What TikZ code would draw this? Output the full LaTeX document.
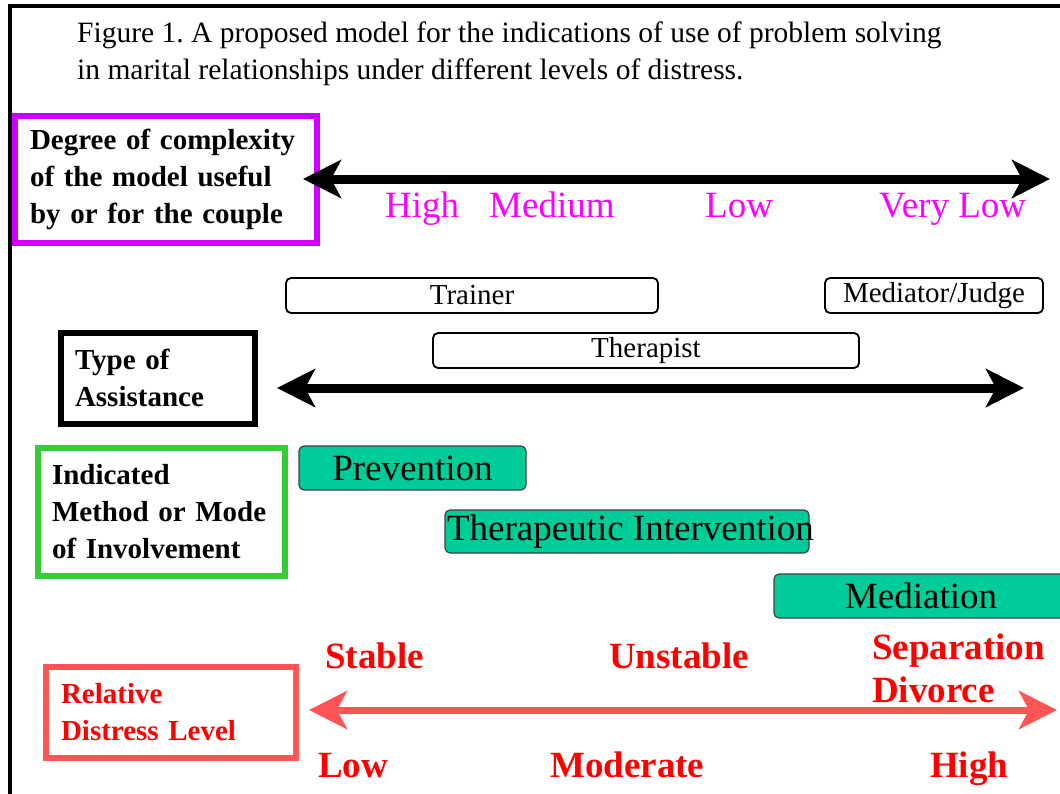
\documentclass[tikz,border=0pt]{standalone}
\usepackage{fontspec}
\setmainfont{Liberation Serif}
\usetikzlibrary{arrows.meta}
\definecolor{boxviolet}{RGB}{204,0,255}
\definecolor{boxgreen}{RGB}{51,204,51}
\definecolor{boxred}{RGB}{255,85,85}
\definecolor{modeteal}{RGB}{0,204,153}
\definecolor{scalemagenta}{RGB}{255,0,255}
\definecolor{scalered}{RGB}{255,0,0}
\frenchspacing

\begin{document}
\begin{tikzpicture}[x=1pt, y=-1pt,
    lbl/.style={draw, line width=6pt, align=left, inner ysep=0pt, font=\fontsize{29}{37}\selectfont\bfseries},
    role/.style={draw, rounded corners=5pt, line width=1.8pt, inner sep=0pt, minimum height=35pt, font=\fontsize{29}{35}\selectfont},
    mode/.style={draw=black!75, fill=modeteal, rounded corners=5pt, line width=1.2pt, inner sep=0pt, minimum height=44pt, font=\fontsize{37}{44}\selectfont},
    tick/.style={anchor=base west, inner sep=0pt, font=\fontsize{37}{44}\selectfont},
    redtick/.style={tick, text=scalered, font=\fontsize{37}{44}\selectfont\bfseries},
    axis/.style={line width=9pt, {Stealth[length=38pt,width=38pt,inset=10pt]}-{Stealth[length=38pt,width=38pt,inset=10pt]}}]
    \useasboundingbox (0,0) rectangle (1060,793);
    % frame and caption
    \draw[line width=4pt] (10,810) -- (10,6) -- (1080,6);
    \node[anchor=north west, inner sep=0pt, align=left, font=\fontsize{29.5}{37}\selectfont] (caption) at (77,22)
        {Figure 1. A proposed model for the indications of use of problem solving\\in marital relationships under different levels of distress.};
    % complexity of the model
    \node[lbl, draw=boxviolet, text width=271pt, inner xsep=15.5pt, minimum height=127pt] (complexity) at (165.5,179.5)
        {Degree of complexity\\of the model useful\\by or for the couple};
    \coordinate (cx-lo) at (303,179);
    \coordinate (cx-hi) at (1050,179);
    \draw[axis] (cx-lo) -- (cx-hi);
    \node[tick, text=scalemagenta] (cx-high) at (385,217) {High};
    \node[tick, text=scalemagenta] (cx-medium) at (489,217) {Medium};
    \node[tick, text=scalemagenta] (cx-low) at (705,217) {Low};
    \node[tick, text=scalemagenta] (cx-verylow) at (879,217) {Very Low};
    % type of assistance
    \node[role, minimum width=372pt] (trainer) at (472,295.5) {Trainer};
    \node[role, minimum width=218pt] (mediator) at (934,295.5) {Mediator/Judge};
    \node[role, minimum width=426pt] (therapist) at (646,350.5) {Therapist};
    \node[lbl, text width=165pt, inner xsep=14.5pt, minimum height=91pt] (assistance) at (157.5,378)
        {Type of\\Assistance};
    \coordinate (as-lo) at (277,388);
    \coordinate (as-hi) at (1024,388);
    \draw[axis] (as-lo) -- (as-hi);
    % method or mode of involvement
    \node[lbl, draw=boxgreen, text width=219pt, inner xsep=14pt, minimum height=128pt] (method) at (161.5,512)
        {Indicated\\Method or Mode\\of Involvement};
    \node[mode, minimum width=227pt] (prevention) at (412.5,468) {Prevention};
    \node[mode, minimum width=364pt, minimum height=43pt, inner xsep=2pt] (intervention) at (627,531.5)
        {\makebox[360pt][l]{Therapeutic Intervention}};
    \node[mode, minimum width=294pt] (mediation) at (921,596) {Mediation};
    % relative distress level
    \node[lbl, draw=boxred, text=scalered, text width=220pt, inner xsep=15pt, minimum height=91pt] (distress) at (171,712.5)
        {Relative\\Distress Level};
    \coordinate (ds-lo) at (309,710);
    \coordinate (ds-hi) at (1057,710);
    \draw[axis, draw=boxred, fill=boxred, line width=7pt] (ds-lo) -- (ds-hi);
    \node[redtick] (ds-stable) at (325,668) {Stable};
    \node[redtick] (ds-unstable) at (609,668) {Unstable};
    \node[redtick, anchor=north west, align=left, font=\fontsize{37}{43}\selectfont\bfseries] (ds-separation) at (872,634)
        {Separation\\Divorce};
    \node[redtick] (ds-low) at (318,777) {Low};
    \node[redtick] (ds-moderate) at (550,777) {Moderate};
    \node[redtick] (ds-high) at (930,777) {High};
\end{tikzpicture}
\end{document}
